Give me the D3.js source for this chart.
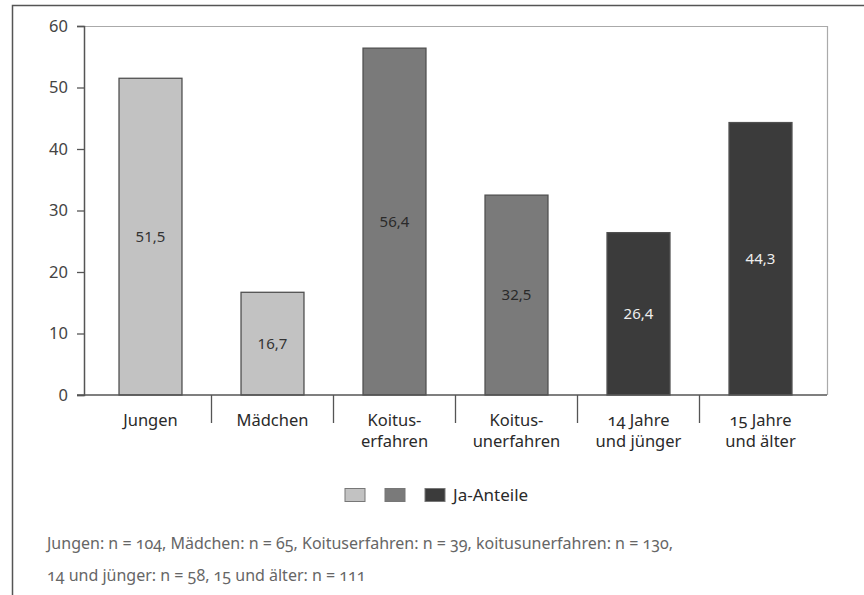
<!DOCTYPE html>
<meta charset="utf-8">
<script src="https://d3js.org/d3.v7.min.js"></script>
<style>
body { margin: 0; background: #fff; }
svg text { font-family: "Noto Sans", "Open Sans", sans-serif; }
</style>
<div id="chart"></div>
<script>

// data
var categories = [["Jungen"], ["Mädchen"], ["Koitus-", "erfahren"], ["Koitus-", "unerfahren"], ["14 Jahre", "und jünger"], ["15 Jahre", "und älter"]];
var values = [51.5, 16.7, 56.4, 32.5, 26.4, 44.3];
var groups = [0, 0, 1, 1, 2, 2];
var yTicks = [0, 10, 20, 30, 40, 50, 60];
var legendLabel = "Ja-Anteile";
var footnote = [
  "Jungen: n = 104, Mädchen: n = 65, Koituserfahren: n = 39, koitusunerfahren: n = 130,",
  "14 und jünger: n = 58, 15 und älter: n = 111"
];

var W = 864, H = 595;
var fills = ["#c2c2c2", "#7a7a7a", "#3b3b3b"];
var labelColors = ["#333", "#2a2a2a", "#eeeeee"];

var svg = d3.select("#chart").append("svg")
  .attr("width", W)
  .attr("height", H);

// outer frame (left + top)
svg.append("path")
  .attr("d", "M12.5,595V5.5H864")
  .attr("fill", "none")
  .attr("stroke", "#555")
  .attr("stroke-width", 1.5);

var x = d3.scaleBand()
  .domain(d3.range(values.length))
  .range([89.5, 821.5])
  .paddingInner(0.484)
  .paddingOuter(0.242);

var y = d3.scaleLinear()
  .domain([0, 60])
  .range([395, 26]);

var plotLeft = 84, plotRight = 827;

// light frame top/right
svg.append("path")
  .attr("d", "M" + plotLeft + "," + (y(60) + 0.5) + "H" + (plotRight + 0.5) + "V" + y(0))
  .attr("fill", "none")
  .attr("stroke", "#aaa")
  .attr("stroke-width", 1.2);

// y axis
var yAxis = svg.append("g")
  .attr("transform", "translate(" + plotLeft + ",0)")
  .call(d3.axisLeft(y).tickValues(yTicks).tickSize(7).tickPadding(9));
yAxis.attr("font-size", null).attr("font-family", null);
yAxis.select(".domain").attr("stroke", "#555").attr("stroke-width", 1.5);
yAxis.selectAll(".tick line").attr("stroke", "#555").attr("stroke-width", 1.3);
yAxis.selectAll(".tick text")
  .attr("fill", "#444")
  .style("font-size", "16.5px");

// bars
svg.append("g")
  .selectAll("rect")
  .data(values)
  .join("rect")
    .attr("x", function(d, i) { return x(i); })
    .attr("y", function(d) { return y(d); })
    .attr("width", x.bandwidth())
    .attr("height", function(d) { return y(0) - y(d); })
    .attr("fill", function(d, i) { return fills[groups[i]]; })
    .attr("stroke", "#505050")
    .attr("stroke-width", 1.3);

// value labels
svg.append("g")
  .selectAll("text")
  .data(values)
  .join("text")
    .attr("x", function(d, i) { return x(i) + x.bandwidth() / 2; })
    .attr("y", function(d) { return (y(d) + y(0)) / 2; })
    .attr("dy", "0.35em")
    .attr("text-anchor", "middle")
    .attr("fill", function(d, i) { return labelColors[groups[i]]; })
    .style("font-size", "15px")
    .text(function(d) { return d3.format(".1f")(d).replace(".", ","); });

// x baseline
svg.append("line")
  .attr("x1", plotLeft - 7).attr("x2", plotRight)
  .attr("y1", y(0)).attr("y2", y(0))
  .attr("stroke", "#555")
  .attr("stroke-width", 1.5);

// category separators
svg.append("g")
  .selectAll("line")
  .data(d3.range(1, values.length))
  .join("line")
    .attr("x1", function(i) { return x(i) - x.step() * x.paddingInner() / 2; })
    .attr("x2", function(i) { return x(i) - x.step() * x.paddingInner() / 2; })
    .attr("y1", y(0))
    .attr("y2", y(0) + 28)
    .attr("stroke", "#555")
    .attr("stroke-width", 1.3);

// category labels
var cat = svg.append("g")
  .selectAll("text")
  .data(categories)
  .join("text")
    .attr("x", function(d, i) { return x(i) + x.bandwidth() / 2; })
    .attr("y", 426)
    .attr("text-anchor", "middle")
    .attr("fill", "#2a2a2a")
    .style("font-size", "16.5px")
    .style("font-variant-numeric", "oldstyle-nums");
cat.selectAll("tspan")
  .data(function(d) { return d; })
  .join("tspan")
    .attr("x", function() { return d3.select(this.parentNode).attr("x"); })
    .attr("dy", function(d, j) { return j === 0 ? 0 : 20.5; })
    .text(function(d) { return d; });

// legend
var legend = svg.append("g");
legend.selectAll("rect")
  .data(fills)
  .join("rect")
    .attr("x", function(d, i) { return 345 + i * 40; })
    .attr("y", 488.5)
    .attr("width", 20)
    .attr("height", 13)
    .attr("fill", function(d) { return d; })
    .attr("stroke", "#777")
    .attr("stroke-width", 1);
legend.append("text")
  .attr("x", 453)
  .attr("y", 495)
  .attr("dy", "0.35em")
  .attr("fill", "#2a2a2a")
  .style("font-size", "17px")
  .text(legendLabel);

// footnote
svg.append("g")
  .selectAll("text")
  .data(footnote)
  .join("text")
    .attr("x", 47)
    .attr("y", function(d, i) { return 543 + i * 32; })
    .attr("dy", "0.35em")
    .attr("fill", "#666")
    .style("font-size", "16px")
    .style("font-variant-numeric", "oldstyle-nums")
    .text(function(d) { return d; });

</script>
